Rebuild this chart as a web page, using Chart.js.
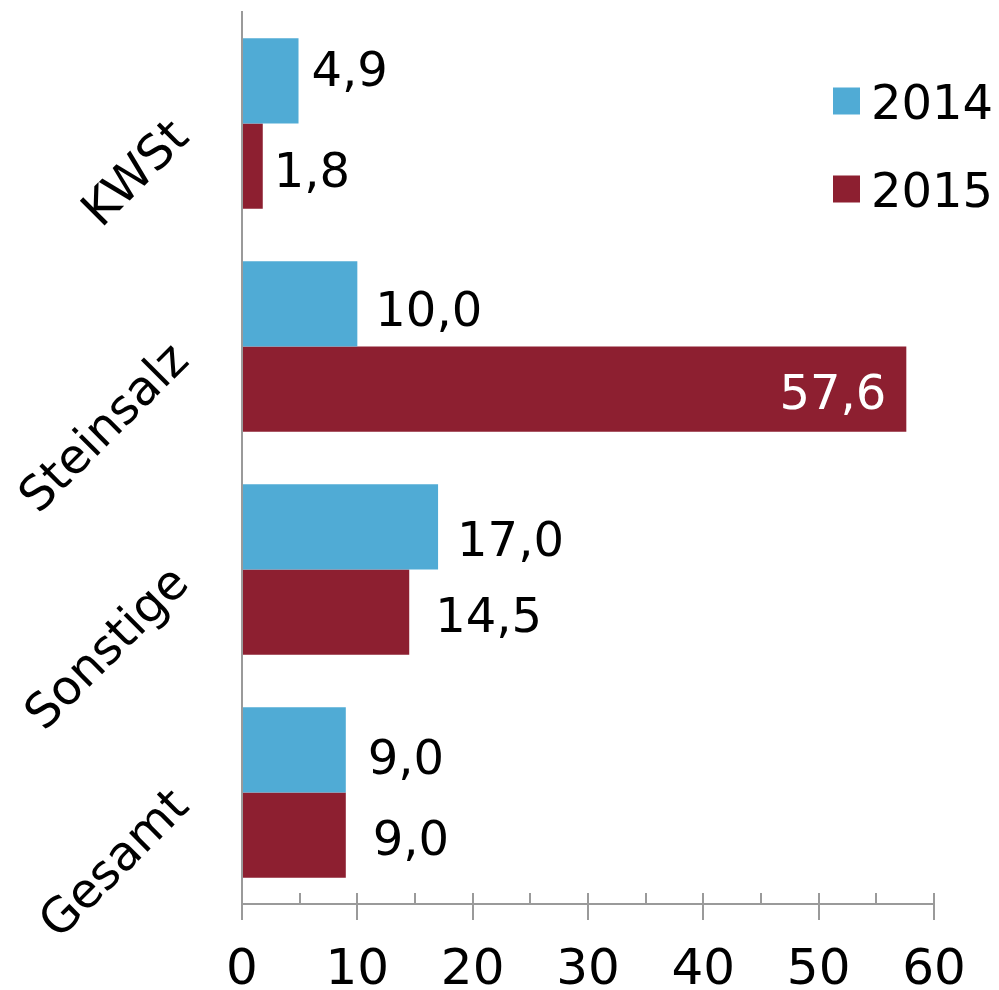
<!DOCTYPE html>
<html>
<head>
<meta charset="utf-8">
<script src="https://cdn.jsdelivr.net/npm/chart.js@4/dist/chart.umd.min.js"></script>
<style>
html,body{margin:0;padding:0;background:#fff;}
canvas{display:block;}
</style>
</head>
<body>
<canvas id="c" width="999" height="990"></canvas>
<script>
const categories = ['KWSt', 'Steinsalz', 'Sonstige', 'Gesamt'];
const seriesNames = ['2014', '2015'];
const values2014 = [4.9, 10.0, 17.0, 9.0];
const values2015 = [1.8, 57.6, 14.5, 9.0];
const xTicks = [0, 10, 20, 30, 40, 50, 60];

const FONT = '"DejaVu Sans", Verdana, sans-serif';
const AXIS = '#9a9a9a';
const fmt = v => v.toFixed(1).replace('.', ',');

// label nudges (dx, dy) per dataset/index, style only
const nudges = [
  [[13, -12], [18, 5], [19, 12], [22, 7]],
  [[11, 3], [-20, 2], [26, 2], [27, 2]]
];

const overlay = {
  id: 'overlay',
  afterDraw(chart) {
    const ctx = chart.ctx;
    const xs = chart.scales.x, ys = chart.scales.y;
    const area = chart.chartArea;
    ctx.save();
    // tick marks above axis (minor + major)
    ctx.strokeStyle = AXIS;
    ctx.lineWidth = 2;
    for (let v = 0; v <= 60; v += 5) {
      const x = Math.round(xs.getPixelForValue(v));
      ctx.beginPath();
      ctx.moveTo(x, area.bottom - 11);
      ctx.lineTo(x, area.bottom);
      ctx.stroke();
    }
    // rotated category labels
    ctx.fillStyle = '#000';
    ctx.font = '48px ' + FONT;
    ctx.textAlign = 'right';
    ctx.textBaseline = 'middle';
    categories.forEach((c, i) => {
      const y = ys.getPixelForTick(i);
      ctx.save();
      ctx.translate(area.left - 60, y + 7);
      ctx.rotate(-Math.PI / 4);
      ctx.fillText(c, 0, 0);
      ctx.restore();
    });
    // data labels
    ctx.font = '48px ' + FONT;
    ctx.textBaseline = 'alphabetic';
    chart.data.datasets.forEach((ds, di) => {
      const meta = chart.getDatasetMeta(di);
      meta.data.forEach((bar, i) => {
        const [dx, dy] = nudges[di][i];
        const y = bar.y + dy + 17.5;
        if (dx < 0) {
          ctx.textAlign = 'right';
          ctx.fillStyle = '#fff';
        } else {
          ctx.textAlign = 'left';
          ctx.fillStyle = '#000';
        }
        ctx.fillText(fmt(ds.data[i]), bar.x + dx, y);
      });
    });
    // legend
    ctx.textAlign = 'left';
    ctx.fillStyle = '#000';
    chart.data.datasets.forEach((ds, di) => {
      const cy = 101 + di * 88;
      ctx.fillStyle = ds.backgroundColor;
      ctx.fillRect(833, cy - 13.5, 27, 27);
      ctx.fillStyle = '#000';
      ctx.fillText(ds.label, 871, cy + 17.5);
    });
    ctx.restore();
  }
};

new Chart(document.getElementById('c'), {
  type: 'bar',
  data: {
    labels: categories,
    datasets: [
      { label: seriesNames[0], data: values2014, backgroundColor: '#50abd5', barPercentage: 1, categoryPercentage: 0.765 },
      { label: seriesNames[1], data: values2015, backgroundColor: '#8d1f30', barPercentage: 1, categoryPercentage: 0.765 }
    ]
  },
  options: {
    indexAxis: 'y',
    responsive: false,
    animation: false,
    layout: { padding: { top: 12, right: 65, left: 0, bottom: 0 } },
    plugins: { legend: { display: false }, tooltip: { enabled: false } },
    scales: {
      x: {
        min: 0, max: 60,
        afterFit(s) { s.height = 86; },
        ticks: {
          stepSize: 5,
          autoSkip: false,
          maxRotation: 0,
          padding: 21,
          color: '#000',
          font: { family: FONT, size: 50 },
          callback: v => xTicks.includes(v) ? String(v) : ''
        },
        grid: {
          drawOnChartArea: false,
          drawTicks: true,
          tickLength: 16,
          lineWidth: 2,
          color: c => (c.tick && xTicks.includes(c.tick.value)) ? AXIS : 'rgba(0,0,0,0)'
        },
        border: { display: true, color: AXIS, width: 2 }
      },
      y: {
        afterFit(s) { s.width = 242; },
        ticks: { display: false },
        grid: { display: false },
        border: { display: true, color: AXIS, width: 2 }
      }
    }
  },
  plugins: [overlay]
});
</script>
</body>
</html>
